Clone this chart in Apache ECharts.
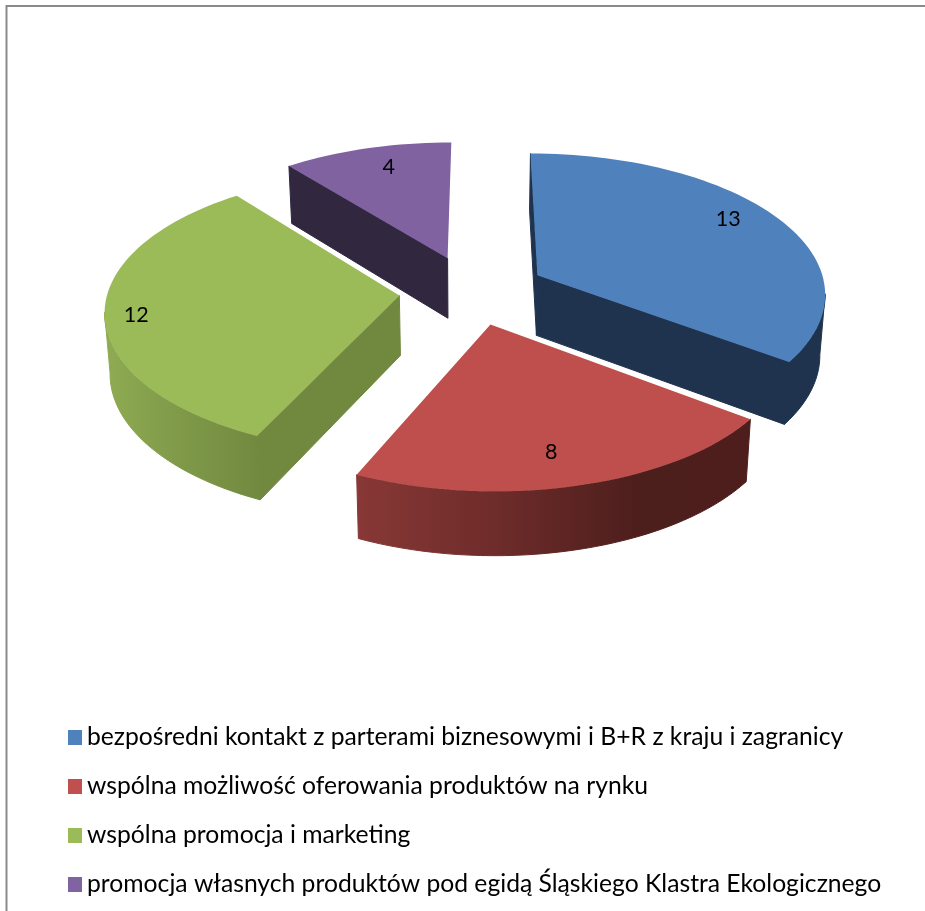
<!DOCTYPE html>
<html>
<head>
<meta charset="utf-8">
<style>
  html, body { margin: 0; padding: 0; background: #fff; }
  #chart { width: 925px; height: 911px; }
</style>
<script src="https://cdn.jsdelivr.net/npm/echarts@6/dist/echarts.min.js"></script>
</head>
<body>
<div id="chart"></div>
<script>
const categories = [
  'bezpośredni kontakt z parterami biznesowymi i B+R z kraju i zagranicy',
  'wspólna możliwość oferowania produktów na rynku',
  'wspólna promocja i marketing',
  'promocja własnych produktów pod egidą Śląskiego Klastra Ekologicznego'
];
const values = [13, 8, 12, 4];

// colours per slice
const legendColors = ['#4f81bd', '#c0504d', '#9bbb59', '#8064a2'];
const topColors = ['#4f81bd', '#be4f4c', '#9bbb59', '#8062a0'];
const sideColors = ['#1f334e', '#4c1e1c', '#71893f', '#31273f'];
const wallStops = [
  [[0, '#1f334e'], [1, '#1f334e']],
  [[0, '#883836'], [0.35, '#6e2c2a'], [0.72, '#4c1e1c'], [1, '#4e1e1d']],
  [[0, '#8fab52'], [0.5, '#7f9949'], [1, '#71893f']],
  [[0, '#31273f'], [1, '#31273f']]
];
// draw order, back slices first
const sliceZ = [3, 4, 2, 1];
// label spot inside the slice, as a share of the radius (x, y)
const labelSpot = [[0.79, 0.97], [0.71, 0.82], [0.9, 1.12], [0.7, 0.81]];
// small shift of each slice's rim against its apex (x, y)
const rimShift = [[-5, -3], [4, 5], [-2, -4.5], [3, 3]];

// pie projection
const centerX = 472, centerY = 291;
const radiusX = 289, radiusY = 137;
const persp = 0.153;
const lean = 0.03;
const explode = 0.2535;
const depth = 60;
const bottomShrink = 0.985;

const total = values.reduce((a, b) => a + b, 0);
const toRad = Math.PI / 180;

function scaleAt(c) {
  return 1 / (1 + persp * c);
}

function project(apex, ang, fx, fy) {
  const c = Math.cos(ang);
  const s = scaleAt(c);
  return [apex[0] + radiusX * fx * Math.sin(ang) * s, apex[1] - radiusY * fy * c * s];
}

// same point on the underside of the slice
function lower(p, c) {
  const s = scaleAt(c);
  return [centerX + (p[0] - centerX) * bottomShrink, p[1] + depth * (1 + 0.4 * (s - 1))];
}

function arcAngles(from, to) {
  const list = [];
  const n = Math.max(2, Math.ceil((to - from) / (2 * toRad)));
  for (let i = 0; i <= n; i++) list.push(from + (to - from) * i / n);
  return list;
}

function renderSlice(idx, params, api) {
  const value = api.value(0);
  let before = 0;
  for (let i = 0; i < idx; i++) before += values[i];
  const start = before / total * 2 * Math.PI;
  const end = (before + value) / total * 2 * Math.PI;
  const mid = (start + end) / 2;
  const apex = [
    centerX + explode * radiusX * Math.sin(mid),
    centerY - explode * radiusY * Math.cos(mid)
  ];
  const apexLow = lower(apex, 0);

  const children = [];
  const edge = (a) => {
    const p = project(apex, a, 1, 1);
    p[0] += rimShift[idx][0] - (apex[0] - centerX) * Math.cos(a) * lean;
    p[1] += rimShift[idx][1];
    return p;
  };

  // outer wall, only the part facing the viewer
  const visFrom = Math.max(start, Math.acos(-persp));
  const visTo = Math.min(end, 2 * Math.PI - Math.acos(-persp));
  if (visTo > visFrom) {
    const angs = arcAngles(visFrom, visTo);
    const upper = angs.map(edge);
    const under = angs.map((a, i) => lower(upper[i], Math.cos(a))).reverse();
    const stops = wallStops[idx].map((s) => ({ offset: s[0], color: s[1] }));
    const grad = new echarts.graphic.LinearGradient(0, 0, 1, 0, stops);
    children.push({
      type: 'polygon',
      shape: { points: upper.concat(under) },
      style: { fill: grad, stroke: grad, lineWidth: 1 }
    });
  }

  // flat cut walls
  [[start, Math.sin(start) < 0.01], [end, Math.sin(end) > 0.01]].forEach((w) => {
    if (!w[1]) return;
    const p = edge(w[0]);
    children.push({
      type: 'polygon',
      shape: { points: [apex, p, lower(p, Math.cos(w[0])), apexLow] },
      style: { fill: sideColors[idx], stroke: sideColors[idx], lineWidth: 1 }
    });
  });

  // top face
  children.push({
    type: 'polygon',
    shape: { points: [apex].concat(arcAngles(start, end).map(edge)) },
    style: { fill: topColors[idx] }
  });

  const spot = project(apex, mid, labelSpot[idx][0], labelSpot[idx][1]);
  children.push({
    type: 'text',
    style: {
      text: String(value),
      x: spot[0],
      y: spot[1],
      align: 'center',
      verticalAlign: 'middle',
      fill: '#000',
      font: '21.5px Lato'
    }
  });
  return { type: 'group', children: children };
}

const chart = echarts.init(document.getElementById('chart'), null, { renderer: 'canvas' });

const option = {
  animation: false,
  backgroundColor: '#fff',
  graphic: [{
    type: 'polyline',
    shape: { points: [[6.5, 911], [6.5, 6], [925, 6]] },
    style: { stroke: '#8a8a8a', lineWidth: 2, fill: null }
  }],
  legend: {
    orient: 'vertical',
    left: 68,
    top: 725,
    padding: 0,
    icon: 'rect',
    itemWidth: 14,
    itemHeight: 15,
    itemGap: 24,
    selectedMode: false,
    data: categories,
    textStyle: {
      fontFamily: 'Lato',
      fontSize: 24.7,
      lineHeight: 24,
      color: '#000'
    }
  },
  series: categories.map((name, idx) => ({
    type: 'custom',
    name: name,
    coordinateSystem: 'none',
    z: sliceZ[idx],
    silent: true,
    itemStyle: { color: legendColors[idx] },
    data: [[values[idx]]],
    renderItem: (params, api) => renderSlice(idx, params, api)
  }))
};

chart.setOption(option);
</script>
</body>
</html>
